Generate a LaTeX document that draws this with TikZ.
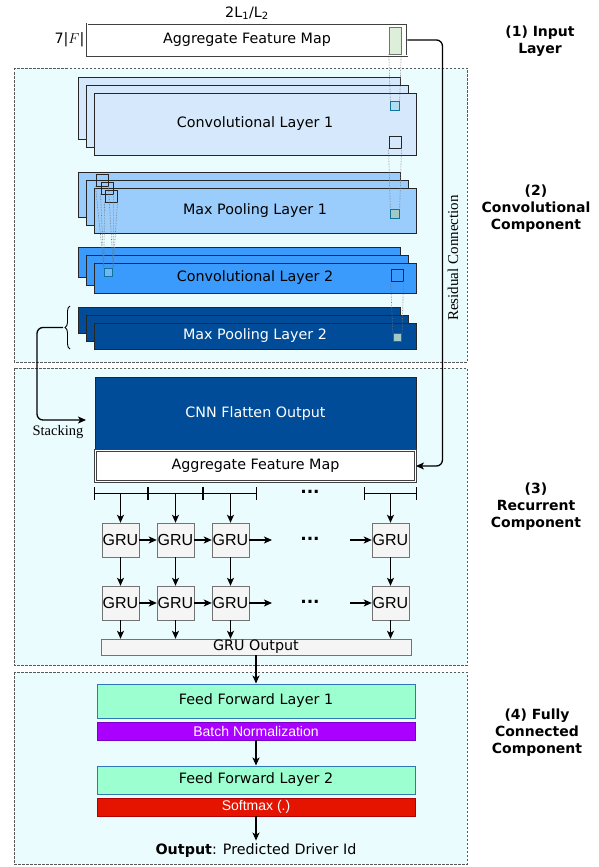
\documentclass[tikz,border=0pt]{standalone}
\usepackage{fontspec}
\setmainfont{DejaVu Sans}
\newfontfamily\arialfont{Liberation Sans}
\newfontfamily\timesfont{Liberation Serif}
\usetikzlibrary{arrows.meta,decorations.pathreplacing}

\definecolor{sectfill}{HTML}{EAFCFE}
\definecolor{convA}{HTML}{D6E9FC}
\definecolor{poolA}{HTML}{9ACCFC}
\definecolor{convB}{HTML}{3A9BFC}
\definecolor{poolB}{HTML}{014C98}
\definecolor{inputstrip}{HTML}{DDEFD9}
\definecolor{fffill}{HTML}{9CFFD0}
\definecolor{ffborder}{HTML}{2E78B7}
\definecolor{bnfill}{HTML}{AA00FF}
\definecolor{bnborder}{HTML}{7700CC}
\definecolor{smfill}{HTML}{E51400}
\definecolor{smborder}{HTML}{B20000}
\definecolor{grufill}{HTML}{F5F5F5}
\definecolor{patchborder}{HTML}{10739E}
\definecolor{tealsq}{HTML}{B1DDF0}
\definecolor{graysq}{HTML}{A3C9C4}
\definecolor{midblue}{HTML}{72B6FA}

\begin{document}
\begin{tikzpicture}[x=1pt, y=-1pt, >={Stealth[length=8pt, width=7pt, inset=2pt]}, font=\fontsize{14.3}{17}\selectfont,
  section/.style={draw=black!65, line width=0.8pt, dash pattern=on 2.5pt off 1.5pt, fill=sectfill},
  layer/.style={draw=black!85, line width=0.9pt, minimum width=322pt, inner sep=0pt},
  afm/.style={draw=black!75, double, double distance=1pt, line width=0.9pt, inner sep=0pt},
  gru/.style={draw=black!55, fill=grufill, minimum width=37pt, minimum height=34pt, inner sep=0pt, font=\arialfont\fontsize{16}{16}\selectfont},
  ff/.style={draw=ffborder, line width=0.9pt, fill=fffill, minimum width=318pt, inner sep=0pt},
  band/.style={line width=0.9pt, minimum width=318pt, minimum height=18pt, inner sep=0pt, text=white, font=\arialfont\fontsize{14}{14}\selectfont},
  patch/.style={draw=patchborder, line width=0.8pt, minimum size=8.5pt, inner sep=0pt},
  kernel/.style={draw=black!85, line width=0.9pt, minimum size=12pt, inner sep=0pt},
  field/.style={densely dotted, draw=black!55, line width=0.6pt},
  flow/.style={->, line width=1.3pt},
  gap/.style={font=\bfseries\fontsize{17}{17}\selectfont},
  sectlabel/.style={font=\bfseries\fontsize{14}{17}\selectfont, align=center}]
\useasboundingbox (0,0) rectangle (599,867);

% component boxes
\draw[section] (14,68) rectangle (467,362);
\draw[section] (14,368) rectangle (467,665);
\draw[section] (14,672) rectangle (467,864);

% (1) input
\node[afm, fill=white, minimum width=320pt, minimum height=32pt] (input) at (247,40) {Aggregate Feature Map};
\node[draw=black!55, fill=inputstrip, minimum width=12pt, minimum height=27pt, inner sep=0pt] (strip) at (395,40.5) {};
\node (dims) at (247,13) {2L\textsubscript{1}/L\textsubscript{2}};
\node[anchor=east, inner sep=2pt] (rows) at (input.west) {7|$F$|};

% (2) convolutional stacks
\draw[layer, fill=convA] (78,77) rectangle (400,139);
\draw[layer, fill=convA] (86,85) rectangle (408,147);
\node[layer, fill=convA, minimum height=62pt] (conv1) at (255,124) {Convolutional Layer 1};

\draw[layer, fill=poolA] (78,172) rectangle (400,217);
\draw[layer, fill=poolA] (86,180) rectangle (408,225);
\node[layer, fill=poolA, minimum height=45pt] (pool1) at (255,210.5) {Max Pooling Layer 1};

\draw[layer, fill=convB] (78,247) rectangle (400,277);
\draw[layer, fill=convB] (86,255) rectangle (408,285);
\node[layer, fill=convB, minimum height=30pt] (conv2) at (255,278) {Convolutional Layer 2};

\draw[layer, fill=poolB] (78,307) rectangle (400,333);
\draw[layer, fill=poolB] (86,315) rectangle (408,341);
\node[layer, fill=poolB, text=white, minimum height=26pt] (pool2) at (255,336) {Max Pooling Layer 2};

% receptive fields
\node[patch, fill=tealsq] (p1) at (395,106) {};
\node[kernel] (k1) at (395,142) {};
\node[patch, fill=graysq] (p2) at (395,214) {};
\node[kernel] (k2) at (102,180) {};
\node[kernel] (k3) at (107,188) {};
\node[kernel] (k4) at (111,196) {};
\node[patch, fill=midblue] (p3) at (108.5,272.5) {};
\node[kernel] (k5) at (397,275) {};
\node[patch, fill=graysq] (p4) at (397.5,337.5) {};

\draw[field] (strip.south west) -- (p1.north west) (strip.south east) -- (p1.north east);
\draw[field] (k1.south west) -- (p2.north west) (k1.south east) -- (p2.north east);
\draw[field] (k2.south west) -- (p3.north west) (k2.south east) -- (p3.north east);
\draw[field] (k3.south west) -- (p3.north west) (k3.south east) -- (p3.north east);
\draw[field] (k4.south west) -- (p3.north west) (k4.south east) -- (p3.north east);
\draw[field] (k5.south west) -- (p4.north west) (k5.south east) -- (p4.north east);

% stacking
\draw[decorate, decoration={brace, amplitude=5pt}, line width=0.9pt] (70,349) -- (70,306);
\coordinate (bracetip) at (63,327.5);
\coordinate (stackend) at (86,420);
\draw[flow, rounded corners=6pt] (bracetip) -| (37,420) -- (stackend);
\node[font=\timesfont\fontsize{14.5}{14.5}\selectfont] (stacklabel) at (58,432) {Stacking};

% (3) recurrent
\node[draw=black!85, fill=poolB, text=white, minimum width=321pt, minimum height=73pt, inner sep=0pt] (flatten) at (255.5,413.5) {CNN Flatten Output};
\node[afm, fill=white, minimum width=320pt, minimum height=31pt] (afm2) at (255.5,466) {Aggregate Feature Map};

\draw[flow, rounded corners=6pt] (input.east) -- ++(35,0) |- (afm2.east);
\node[rotate=90, font=\timesfont\fontsize{15}{15}\selectfont] (reslabel) at (453,258) {Residual Connection};

\foreach \a/\b in {94/147,148/202,203/256,364/416}
  \draw[line width=0.9pt] (\a,493) -- (\b,493) (\a,487) -- (\a,500) (\b,487) -- (\b,500);
\coordinate (seg1) at (120.5,493);
\coordinate (seg2) at (175.5,493);
\coordinate (seg3) at (230.5,493);
\coordinate (seg4) at (390.5,493);

\node[gru] (g11) at (120.5,540) {GRU};
\node[gru] (g12) at (175.5,540) {GRU};
\node[gru] (g13) at (230.5,540) {GRU};
\node[gru] (g14) at (390.5,540) {GRU};
\node[gru] (g21) at (120.5,603) {GRU};
\node[gru] (g22) at (175.5,603) {GRU};
\node[gru] (g23) at (230.5,603) {GRU};
\node[gru] (g24) at (390.5,603) {GRU};
\node[gap] (dots0) at (310,492) {...};
\node[gap] (dots1) at (310,539) {...};
\node[gap] (dots2) at (310,602) {...};
\coordinate (gap1a) at (272,540);
\coordinate (gap1b) at (350,540);
\coordinate (gap2a) at (272,603);
\coordinate (gap2b) at (350,603);

\draw[flow] (seg1) -- (g11);
\draw[flow] (seg2) -- (g12);
\draw[flow] (seg3) -- (g13);
\draw[flow] (seg4) -- (g14);
\draw[flow] (g11) -- (g12);
\draw[flow] (g12) -- (g13);
\draw[flow] (g13) -- (gap1a);
\draw[flow] (gap1b) -- (g14);
\draw[flow] (g21) -- (g22);
\draw[flow] (g22) -- (g23);
\draw[flow] (g23) -- (gap2a);
\draw[flow] (gap2b) -- (g24);
\draw[flow] (g11) -- (g21);
\draw[flow] (g12) -- (g22);
\draw[flow] (g13) -- (g23);
\draw[flow] (g14) -- (g24);

\node[draw=black!55, fill=grufill, minimum width=310pt, minimum height=16pt, inner sep=0pt] (gruout) at (256,647) {GRU Output};
\draw[flow] (g21.south) -- (g21.south |- gruout.north);
\draw[flow] (g22.south) -- (g22.south |- gruout.north);
\draw[flow] (g23.south) -- (g23.south |- gruout.north);
\draw[flow] (g24.south) -- (g24.south |- gruout.north);

% (4) fully connected
\node[ff, minimum height=34pt] (ff1) at (256,701) {Feed Forward Layer 1};
\node[band, fill=bnfill, draw=bnborder] (bn) at (256,731) {Batch Normalization};
\node[ff, minimum height=28pt] (ff2) at (256,780) {Feed Forward Layer 2};
\node[band, fill=smfill, draw=smborder] (sm) at (256,807) {Softmax (.)};
\node (out) at (256,851) {\textbf{Output}: Predicted Driver Id};
\draw[flow] (gruout) -- (ff1);
\draw[flow] (bn) -- (ff2);
\draw[flow] (sm) -- (out);

% component labels
\node[sectlabel] (lab1) at (540,41) {(1) Input\\Layer};
\node[sectlabel] (lab2) at (536,209) {(2)\\Convolutional\\Component};
\node[sectlabel] (lab3) at (536,507) {(3)\\Recurrent\\Component};
\node[sectlabel] (lab4) at (537,733) {(4) Fully\\Connected\\Component};
\end{tikzpicture}
\end{document}
